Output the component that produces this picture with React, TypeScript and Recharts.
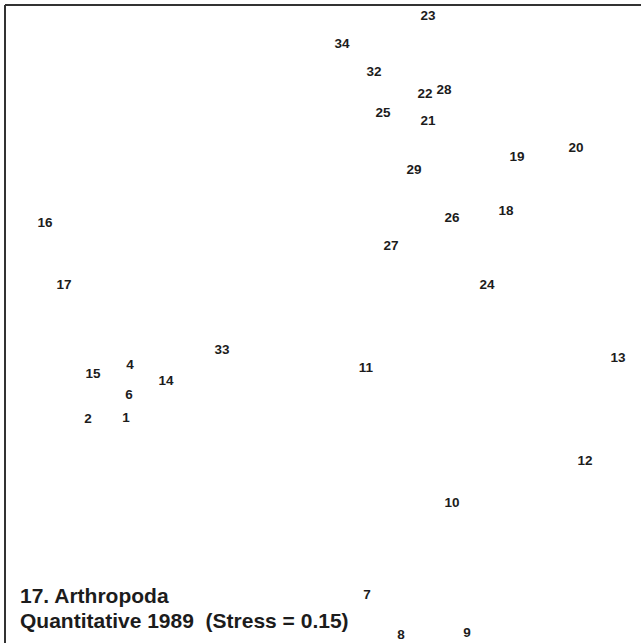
import { ScatterChart, Scatter, XAxis, YAxis, ReferenceLine } from 'recharts';

// MDS ordination, site numbers plotted at their coordinates
const sites = ['23', '34', '32', '22', '28', '25', '21', '20', '19', '29', '18', '26', '16', '27', '17',
  '24', '33', '13', '4', '11', '15', '14', '6', '1', '2', '12', '10', '7', '8', '9'];
const dim1 = [1.03, 0.17, 0.49, 1.0, 1.19, 0.58, 1.03, 2.51, 1.92, 0.89, 1.81, 1.27, -2.8, 0.66, -2.61,
  1.62, -1.03, 2.93, -1.95, 0.41, -2.32, -1.59, -1.96, -1.99, -2.37, 2.6, 1.27, 0.42, 0.76, 1.42];
const dim2 = [3.15, 2.87, 2.59, 2.37, 2.41, 2.18, 2.1, 1.83, 1.74, 1.61, 1.2, 1.13, 1.08, 0.85, 0.46,
  0.46, -0.19, -0.27, -0.34, -0.37, -0.43, -0.5, -0.64, -0.87, -0.88, -1.3, -1.72, -2.64, -3.04, -3.02];

const titleLines = ['17. Arthropoda', 'Quantitative 1989  (Stress = 0.15)'];

const points = sites.map((s, i) => ({ site: s, x: dim1[i], y: dim2[i] }));

const FONT = "'Liberation Sans', Arial, Helvetica, sans-serif";

const SiteLabel = (props: any) => {
  const { cx, cy, payload } = props;
  return (
    <text x={cx} y={cy} dy={5} textAnchor="middle" fontSize={13.5} fontWeight="bold"
      fontFamily={FONT} fill="#1c1c1c">
      {payload.site}
    </text>
  );
};

export default function App() {
  return (
    <div style={{ position: 'fixed', left: 0, top: 0, width: 641, height: 643, overflow: 'hidden', background: '#fff' }}>
      <ScatterChart width={660} height={660} margin={{ top: 5, left: 5, right: 0, bottom: 0 }}
        style={{ overflow: 'hidden' }}>
        <XAxis type="number" dataKey="x" domain={[-3.2, 3.35]} hide />
        <YAxis type="number" dataKey="y" domain={[-3.3, 3.25]} hide />
        {/* frame: only top and left edges fall inside the picture */}
        <ReferenceLine y={3.25} stroke="#333" strokeWidth={2} />
        <ReferenceLine x={-3.2} stroke="#333" strokeWidth={2} />
        <Scatter data={points} shape={SiteLabel} isAnimationActive={false} />
      </ScatterChart>
      <div style={{ position: 'absolute', left: 20, top: 583, fontFamily: FONT,
        fontWeight: 'bold', fontSize: 21, lineHeight: '25px', color: '#1c1c1c', whiteSpace: 'pre' }}>
        {titleLines.map(l => <div key={l}>{l}</div>)}
      </div>
    </div>
  );
}
